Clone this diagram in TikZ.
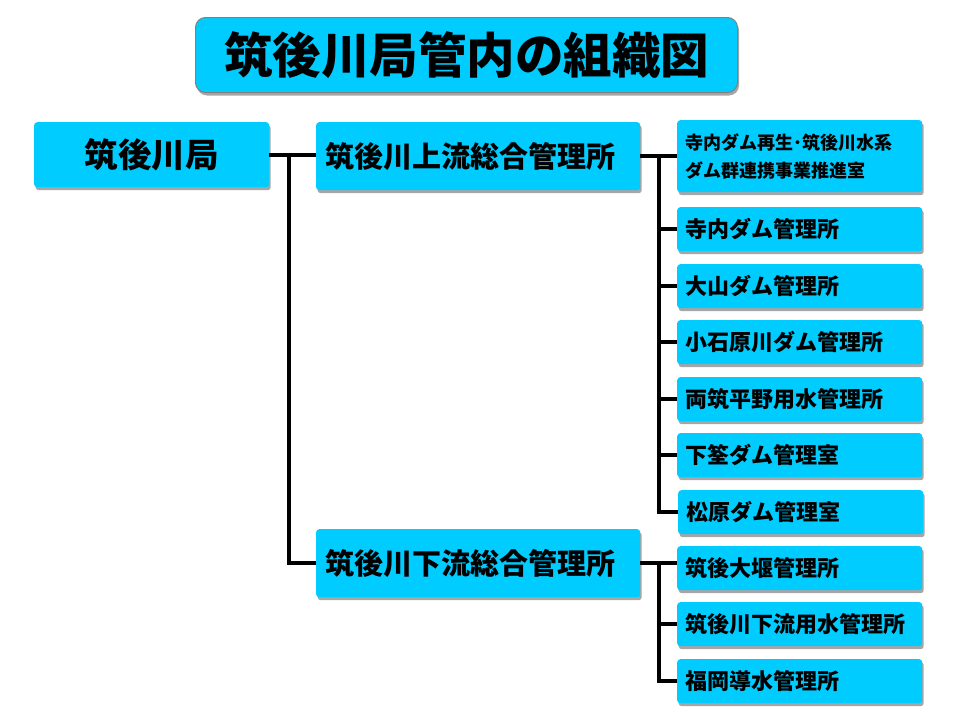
\documentclass[tikz,border=0pt]{standalone}
\usepackage{fontspec}
\setmainfont{Noto Sans CJK JP}
\usetikzlibrary{shadows}
\definecolor{boxcyan}{RGB}{0,204,255}

\begin{document}
\begin{tikzpicture}[x=1pt, y=-1pt,
      every node/.style = {shape=rectangle, rounded corners=3pt,
        fill=boxcyan, anchor=north west, font=\bfseries,
        drop shadow={shadow xshift=1.5pt, shadow yshift=-3pt, opacity=0.35, fill=black}},
      titlebox/.style = {rounded corners=10pt, draw=gray, line width=1pt,
        minimum width=542pt, minimum height=75pt,
        font=\bfseries\fontsize{48.5}{54}\selectfont, drop shadow={opacity=0}},
      topbox/.style = {minimum width=235pt, minimum height=65pt,
        font=\bfseries\fontsize{33.5}{38}\selectfont},
      midbox/.style = {inner xsep=9pt, text width=306pt, align=left,
        minimum height=68pt, font=\bfseries\fontsize{29}{33}\selectfont},
      subbox/.style = {inner xsep=8pt, text width=229pt, align=left,
        minimum height=44pt, font=\bfseries\fontsize{22}{26}\selectfont},
      link/.style = {draw=black, line width=4pt}]
  \useasboundingbox (0,0) rectangle (960,720);
  \node[titlebox] (title) at (195,17) {筑後川局管内の組織図};
  \node[topbox] (kyoku) at (34,122) {筑後川局};
  \node[midbox] (jouryu) at (316,122) {筑後川上流総合管理所};
  \node[midbox] (karyu) at (316,529) {筑後川下流総合管理所};
  % upstream offices
  \node[subbox, minimum height=72pt, font=\bfseries\fontsize{18}{28}\selectfont]
    (u1) at (677,120) {寺内ダム再生･筑後川水系\\ダム群連携事業推進室};
  \node[subbox] (u2) at (677,207) {寺内ダム管理所};
  \node[subbox] (u3) at (677,264) {大山ダム管理所};
  \node[subbox] (u4) at (677,320) {小石原川ダム管理所};
  \node[subbox] (u5) at (677,377) {両筑平野用水管理所};
  \node[subbox] (u6) at (677,433) {下筌ダム管理室};
  \node[subbox] (u7) at (678,490) {松原ダム管理室};
  % downstream offices
  \node[subbox] (d1) at (677,546) {筑後大堰管理所};
  \node[subbox] (d2) at (677,602) {筑後川下流用水管理所};
  \node[subbox] (d3) at (677,659) {福岡導水管理所};
  % connectors
  \coordinate (kb) at (289,155);
  \coordinate (ub) at (659,156);
  \coordinate (db) at (659,563);
  \draw[link] (kyoku.east |- kb) -- (jouryu.west |- kb);
  \draw[link] (kb) |- (karyu.west |- db);
  \draw[link] (jouryu.east |- ub) -- (u1.west |- ub);
  \draw[link] (ub) |- (u7.west);
  \foreach \i in {2,...,6}
    \draw[link] (ub |- u\i.west) -- (u\i.west);
  \draw[link] (karyu.east |- db) -- (d1.west |- db);
  \draw[link] (db) |- (d3.west);
  \draw[link] (db |- d2.west) -- (d2.west);
\end{tikzpicture}
\end{document}
